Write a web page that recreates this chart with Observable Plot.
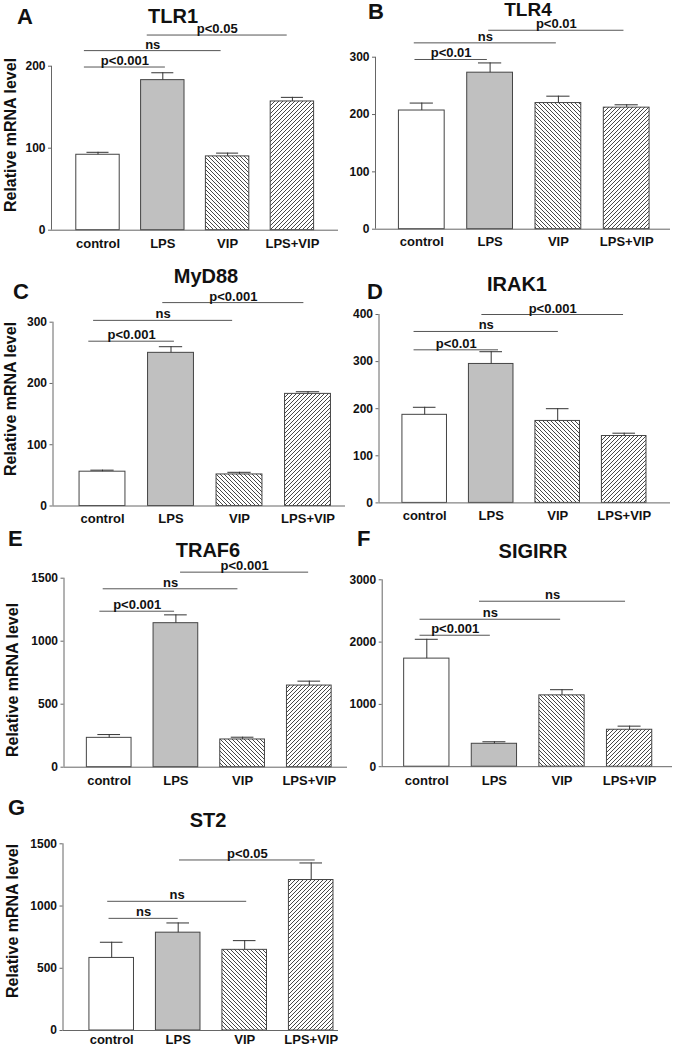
<!DOCTYPE html>
<html>
<head>
<meta charset="utf-8">
<script src="https://cdn.jsdelivr.net/npm/d3@7"></script>
<script src="https://cdn.jsdelivr.net/npm/@observablehq/plot@0.6"></script>
<style>
  body { margin: 0; background: #fff; }
  #fig { position: relative; width: 675px; height: 1049px; overflow: hidden; background: #fff; }
  #fig > svg, #fig > figure { position: absolute; margin: 0; }
</style>
</head>
<body>
<div id="fig"></div>
<script>
// ---------- data ----------
const categories = ["control", "LPS", "VIP", "LPS+VIP"];

const tlr1Mean = [92, 183, 90, 157];
const tlr1Sem = [3, 9, 4, 5];
const tlr1Ticks = [0, 100, 200];
const tlr1Brackets = [
  {from: -0.21, to: 1.04, y: 199, label: "p<0.001"},
  {from: -0.21, to: 1.90, y: 219, label: "ns"},
  {from: 0.76, to: 2.92, y: 238, label: "p<0.05"}
];

const tlr4Mean = [207, 273, 220, 212];
const tlr4Sem = [13, 17, 12, 5];
const tlr4Ticks = [0, 100, 200, 300];
const tlr4Brackets = [
  {from: -0.10, to: 0.96, y: 296, label: "p<0.01"},
  {from: -0.11, to: 1.97, y: 325, label: "ns"},
  {from: 0.98, to: 2.96, y: 347, label: "p<0.01"}
];

const myd88Mean = [56, 250, 51.5, 183];
const myd88Sem = [2.5, 10, 3.5, 3.5];
const myd88Ticks = [0, 100, 200, 300];
const myd88Brackets = [
  {from: -0.20, to: 1.05, y: 269, label: "p<0.001"},
  {from: -0.13, to: 1.90, y: 303, label: "ns"},
  {from: 0.88, to: 2.94, y: 332, label: "p<0.001"}
];

const irak1Mean = [187, 295, 174, 142];
const irak1Sem = [16, 26, 26, 6];
const irak1Ticks = [0, 100, 200, 300, 400];
const irak1Brackets = [
  {from: -0.16, to: 1.11, y: 325, label: "p<0.01"},
  {from: -0.16, to: 2.01, y: 364, label: "ns"},
  {from: 0.86, to: 2.99, y: 400, label: "p<0.001"}
];

const traf6Mean = [233, 1143, 220, 648];
const traf6Sem = [26, 66, 18, 35];
const traf6Ticks = [0, 500, 1000, 1500];
const traf6Brackets = [
  {from: -0.14, to: 0.98, y: 1238, label: "p<0.001"},
  {from: -0.09, to: 1.93, y: 1416, label: "ns"},
  {from: 1.07, to: 2.99, y: 1548, label: "p<0.001"}
];

const sigirrMean = [1735, 368, 1145, 593];
const sigirrSem = [310, 32, 91, 58];
const sigirrTicks = [0, 1000, 2000, 3000];
const sigirrBrackets = [
  {from: -0.10, to: 0.94, y: 2110, label: "p<0.001"},
  {from: -0.10, to: 1.98, y: 2367, label: "ns"},
  {from: 0.78, to: 2.94, y: 2656, label: "ns"}
];

const st2Mean = [583, 786, 648, 1209];
const st2Sem = [126, 78, 74, 137];
const st2Ticks = [0, 500, 1000, 1500];
const st2Brackets = [
  {from: -0.04, to: 1.00, y: 901, label: "ns"},
  {from: -0.06, to: 2.03, y: 1038, label: "ns"},
  {from: 1.02, to: 3.06, y: 1370, label: "p<0.05"}
];

const yTitle = "Relative mRNA level";

// ---------- layout & style ----------
const FONT = "'Liberation Sans', Arial, Helvetica, sans-serif";
const AXIS = "#666";
const EDGE = "#444";
const barHalf = 0.335;
const capHalf = 0.17;

const panels = [
  {id: "A", title: "TLR1", mean: tlr1Mean, sem: tlr1Sem, ticks: tlr1Ticks, brackets: tlr1Brackets,
   cell: {left: 0, top: 0, width: 350, height: 262}, axisX: 51, xRight: 338, yTop: 65.7, yBase: 229.7, c0: 97.5, step: 64.8,
   labelPad: 9, titlePos: [173, 23], titleSize: 20, letterPos: [17, 24], yTitlePos: [10, 135]},
  {id: "B", title: "TLR4", mean: tlr4Mean, sem: tlr4Sem, ticks: tlr4Ticks, brackets: tlr4Brackets,
   cell: {left: 340, top: 0, width: 335, height: 262}, axisX: 375, xRight: 670, yTop: 56.7, yBase: 228.7, c0: 421.3, step: 68.3,
   labelPad: 8, titlePos: [528, 15.5], titleSize: 19, letterPos: [368, 19]},
  {id: "C", title: "MyD88", mean: myd88Mean, sem: myd88Sem, ticks: myd88Ticks, brackets: myd88Brackets,
   cell: {left: 0, top: 262, width: 350, height: 265}, axisX: 52.5, xRight: 345, yTop: 321.7, yBase: 505.5, c0: 102, step: 68.5,
   labelPad: 8, titlePos: [206, 283], titleSize: 20, letterPos: [13, 299], yTitlePos: [10, 399]},
  {id: "D", title: "IRAK1", mean: irak1Mean, sem: irak1Sem, ticks: irak1Ticks, brackets: irak1Brackets,
   cell: {left: 340, top: 262, width: 335, height: 265}, axisX: 378.5, xRight: 670, yTop: 314, yBase: 502.4, c0: 424.2, step: 66.5,
   labelPad: 8, titlePos: [517, 291], titleSize: 20, letterPos: [367, 299]},
  {id: "E", title: "TRAF6", mean: traf6Mean, sem: traf6Sem, ticks: traf6Ticks, brackets: traf6Brackets,
   cell: {left: 0, top: 527, width: 350, height: 268}, axisX: 63.5, xRight: 347, yTop: 577.7, yBase: 766.7, c0: 108.7, step: 66.7,
   labelPad: 9, titlePos: [208, 557], titleSize: 20, letterPos: [8, 546], yTitlePos: [12, 680]},
  {id: "F", title: "SIGIRR", mean: sigirrMean, sem: sigirrSem, ticks: sigirrTicks, brackets: sigirrBrackets,
   cell: {left: 340, top: 527, width: 335, height: 268}, axisX: 381.7, xRight: 672, yTop: 579.3, yBase: 766.2, c0: 426.3, step: 67.6,
   labelPad: 9, titlePos: [533, 558], titleSize: 20, letterPos: [357, 546]},
  {id: "G", title: "ST2", mean: st2Mean, sem: st2Sem, ticks: st2Ticks, brackets: st2Brackets,
   cell: {left: 0, top: 795, width: 350, height: 254}, axisX: 62.5, xRight: 338, yTop: 843.3, yBase: 1030, c0: 111.2, step: 66.5,
   labelPad: 4, titlePos: [208, 827], titleSize: 20, letterPos: [8, 815], yTitlePos: [12, 921]}
];

function hatchDefs(id) {
  return () => {
    const g = document.createElementNS("http://www.w3.org/2000/svg", "g");
    g.innerHTML =
      `<defs>
        <pattern id="${id}-back" patternUnits="userSpaceOnUse" width="4" height="4">
          <rect width="4" height="4" fill="#fff"/>
          <path d="M-1,3 l2,2 M0,0 l4,4 M3,-1 l2,2" stroke="#333" stroke-width="0.9"/>
        </pattern>
        <pattern id="${id}-fwd" patternUnits="userSpaceOnUse" width="4" height="4">
          <rect width="4" height="4" fill="#fff"/>
          <path d="M-1,1 l2,-2 M0,4 l4,-4 M3,5 l2,-2" stroke="#333" stroke-width="0.9"/>
        </pattern>
      </defs>`;
    return g;
  };
}

const fig = document.getElementById("fig");

for (const p of panels) {
  const data = categories.map((c, i) => ({i, c, mean: p.mean[i], top: p.mean[i] + p.sem[i]}));
  const fills = ["#ffffff", "#c0c0c0", `url(#hatch${p.id}-back)`, `url(#hatch${p.id}-fwd)`];
  const {cell} = p;
  const xDomain = [(p.axisX - p.c0) / p.step, (p.xRight - p.c0) / p.step];
  const yMax = p.ticks[p.ticks.length - 1];
  const chart = Plot.plot({
    width: cell.width,
    height: cell.height,
    marginLeft: p.axisX - cell.left,
    marginRight: cell.left + cell.width - p.xRight,
    marginTop: p.yTop - cell.top,
    marginBottom: cell.top + cell.height - p.yBase,
    style: {background: "transparent", fontFamily: FONT, fontWeight: "bold", color: "#111", overflow: "visible"},
    x: {type: "linear", domain: xDomain, axis: null},
    y: {domain: [0, yMax], axis: null},
    color: {type: "identity"},
    marks: [
      hatchDefs(`hatch${p.id}`),
      Plot.rectY(data, {x1: d => d.i - barHalf, x2: d => d.i + barHalf, y1: 0, y2: "mean",
                        fill: d => fills[d.i], stroke: EDGE, strokeWidth: 1}),
      Plot.ruleX(data, {x: "i", y1: "mean", y2: "top", stroke: "#333", strokeWidth: 1}),
      Plot.ruleY(data, {y: "top", x1: d => d.i - capHalf, x2: d => d.i + capHalf, stroke: "#333", strokeWidth: 1}),
      Plot.ruleY([0], {stroke: AXIS}),
      Plot.ruleX([xDomain[0]], {y1: 0, y2: yMax, stroke: AXIS}),
      Plot.axisY({ticks: p.ticks, tickSize: 3, tickPadding: 3, stroke: AXIS, fill: "#111",
                  fontSize: 12, fontWeight: "bold", tickFormat: d3.format("d")}),
      Plot.axisX({ticks: [0, 1, 2, 3], tickSize: 0, tickPadding: p.labelPad, fill: "#111",
                  fontSize: 13, fontWeight: "bold", tickFormat: i => categories[i]}),
      Plot.ruleY(p.brackets, {y: "y", x1: "from", x2: "to", stroke: "#555", strokeWidth: 1}),
      Plot.text(p.brackets, {x: d => (d.from + d.to) / 2, y: "y", text: "label", lineAnchor: "bottom",
                             dy: -2, fontSize: 13, fontWeight: "bold", fill: "#111"})
    ]
  });
  chart.style.left = cell.left + "px";
  chart.style.top = cell.top + "px";
  fig.appendChild(chart);
}

// overlay for titles, panel letters and y-axis titles
const overlay = d3.select(fig).append("svg")
  .attr("width", 675).attr("height", 1049)
  .style("left", "0px").style("top", "0px").style("pointer-events", "none")
  .attr("font-family", FONT).attr("font-weight", "bold").attr("fill", "#111");

for (const p of panels) {
  overlay.append("text").attr("x", p.titlePos[0]).attr("y", p.titlePos[1])
    .attr("text-anchor", "middle").attr("font-size", p.titleSize).text(p.title);
  overlay.append("text").attr("x", p.letterPos[0]).attr("y", p.letterPos[1])
    .attr("font-size", 22).text(p.id);
  if (p.yTitlePos) {
    overlay.append("text")
      .attr("transform", `translate(${p.yTitlePos[0]},${p.yTitlePos[1]}) rotate(-90)`)
      .attr("text-anchor", "middle").attr("dy", "0.35em").attr("font-size", 16).text(yTitle);
  }
}
</script>
</body>
</html>
